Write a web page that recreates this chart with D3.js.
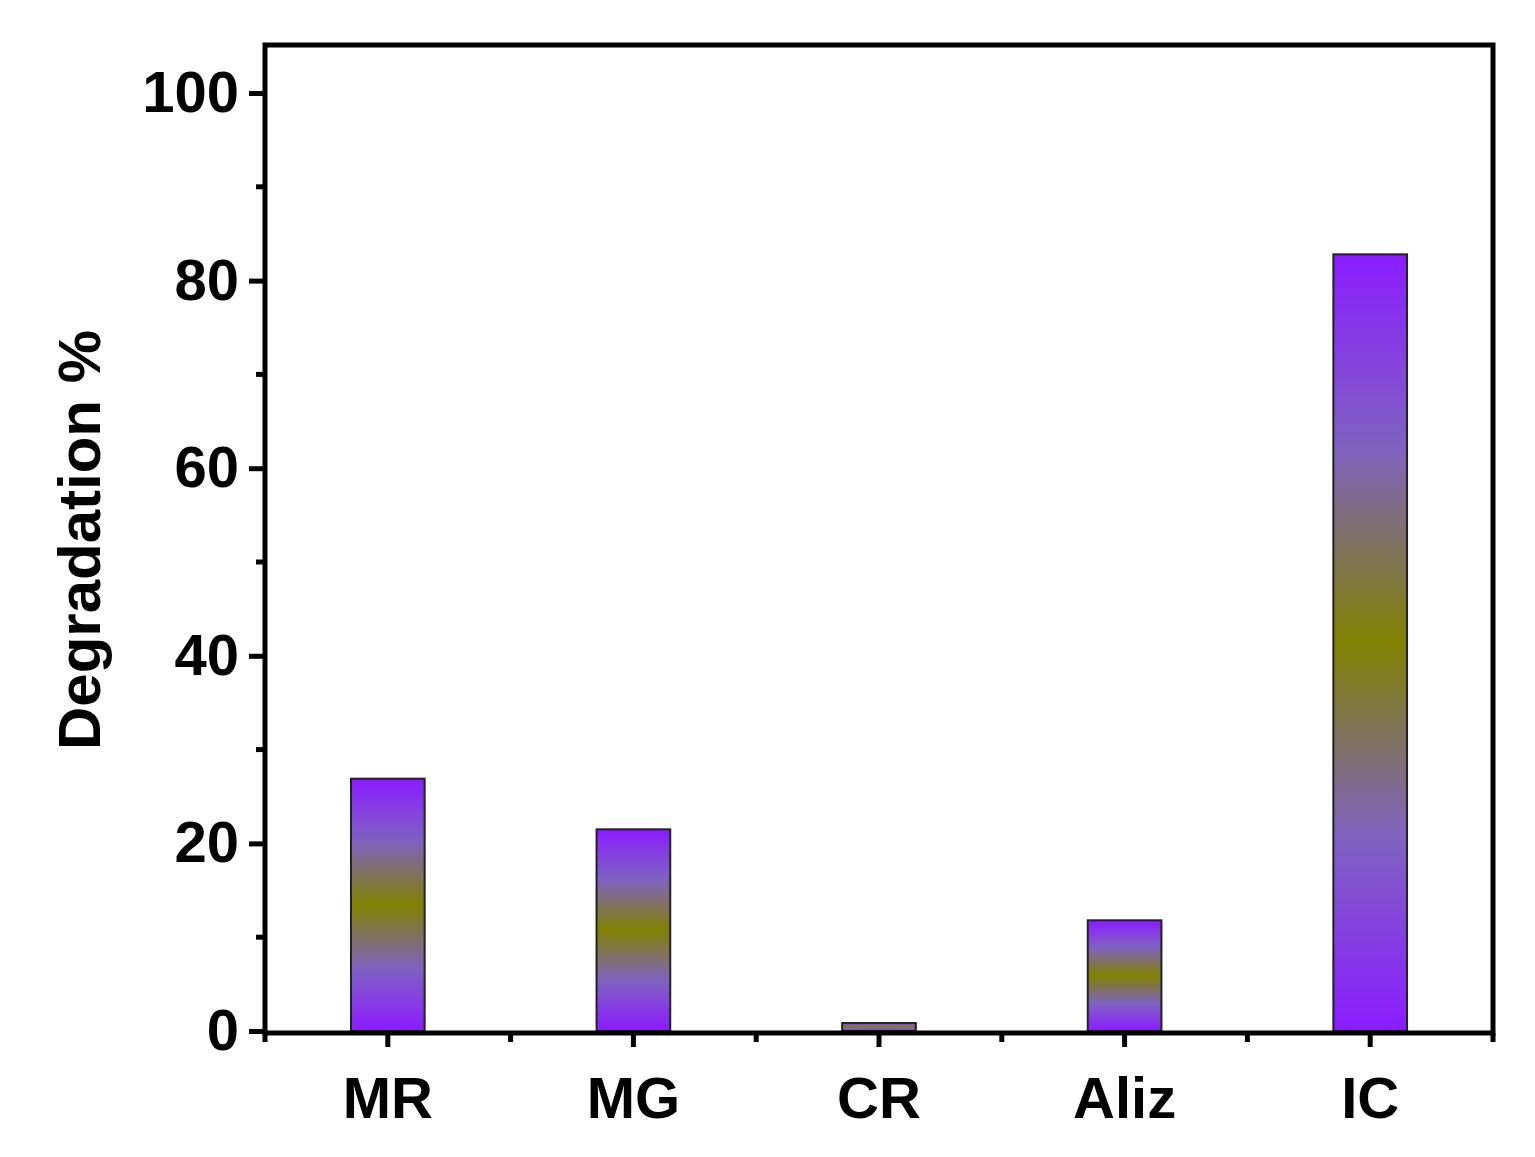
<!DOCTYPE html>
<html><head><meta charset="utf-8">
<script src="https://cdn.jsdelivr.net/npm/d3@7"></script>
<style>body{margin:0;background:#fff}</style>
</head><body>
<svg id="chart" width="1535" height="1157"></svg>
<script>
const dyes = ['MR', 'MG', 'CR', 'Aliz', 'IC'];
const degradation = [26.9, 21.5, 0.85, 11.8, 82.8];
const yTicks = [0, 20, 40, 60, 80, 100];
const yMinor = [10, 30, 50, 70, 90];

const svg = d3.select('#chart');
const plotL = 265, plotR = 1493, plotT = 45, plotB = 1033;

const x = d3.scaleBand().domain(dyes).range([plotL, plotR]).paddingInner(0.7).paddingOuter(0.35);
const y = d3.scaleLinear().domain([0, 100]).range([1031, 93]);

// gradient: purple - olive - purple
const grad = svg.append('defs').append('linearGradient')
    .attr('id', 'g').attr('x1', 0).attr('y1', 0).attr('x2', 0).attr('y2', 1);
grad.append('stop').attr('offset', '0%').attr('stop-color', '#8a1cff');
grad.append('stop').attr('offset', '25%').attr('stop-color', '#7f62c0');
grad.append('stop').attr('offset', '50%').attr('stop-color', '#808000');
grad.append('stop').attr('offset', '75%').attr('stop-color', '#7f62c0');
grad.append('stop').attr('offset', '100%').attr('stop-color', '#8a1cff');

svg.append('g').selectAll('rect')
    .data(dyes).enter().append('rect')
    .attr('x', d => x(d))
    .attr('y', (d, i) => y(degradation[i]))
    .attr('width', x.bandwidth())
    .attr('height', (d, i) => y(0) - y(degradation[i]))
    .attr('fill', 'url(#g)')
    .attr('stroke', '#222').attr('stroke-width', 2);

// frame
svg.append('rect').attr('x', plotL).attr('y', plotT).attr('width', plotR - plotL).attr('height', plotB - plotT)
    .attr('fill', 'none').attr('stroke', '#000').attr('stroke-width', 5);

// y axis
const yAxis = svg.append('g').attr('transform', 'translate(' + plotL + ',0)')
    .call(d3.axisLeft(y).tickValues(yTicks).tickSize(16).tickPadding(10));
yAxis.select('.domain').remove();
yAxis.selectAll('line').attr('stroke-width', 5);
yAxis.selectAll('text').style('font-family', 'Liberation Sans, Arial').style('font-weight', 'bold').style('font-size', '58px').attr('fill', '#000');
svg.append('g').selectAll('line').data(yMinor).enter().append('line')
    .attr('x1', plotL - 9).attr('x2', plotL).attr('y1', d => y(d)).attr('y2', d => y(d))
    .attr('stroke', '#000').attr('stroke-width', 5);

// x axis
const xAxis = svg.append('g').attr('transform', 'translate(0,' + plotB + ')')
    .call(d3.axisBottom(x).tickSize(14).tickPadding(30));
xAxis.select('.domain').remove();
xAxis.selectAll('line').attr('stroke-width', 5);
xAxis.selectAll('text').style('font-family', 'Liberation Sans, Arial').style('font-weight', 'bold').style('font-size', '58px').attr('fill', '#000');
const step = x.step();
svg.append('g').selectAll('line').data(d3.range(dyes.length + 1)).enter().append('line')
    .attr('x1', i => plotL + step * i).attr('x2', i => plotL + step * i)
    .attr('y1', plotB).attr('y2', plotB + 9)
    .attr('stroke', '#000').attr('stroke-width', 5);

svg.append('text').attr('transform', 'translate(100,540) rotate(-90)')
    .attr('text-anchor', 'middle')
    .style('font-family', 'Liberation Sans, Arial').style('font-weight', 'bold').style('font-size', '60px')
    .text('Degradation %');
</script>
</body></html>
